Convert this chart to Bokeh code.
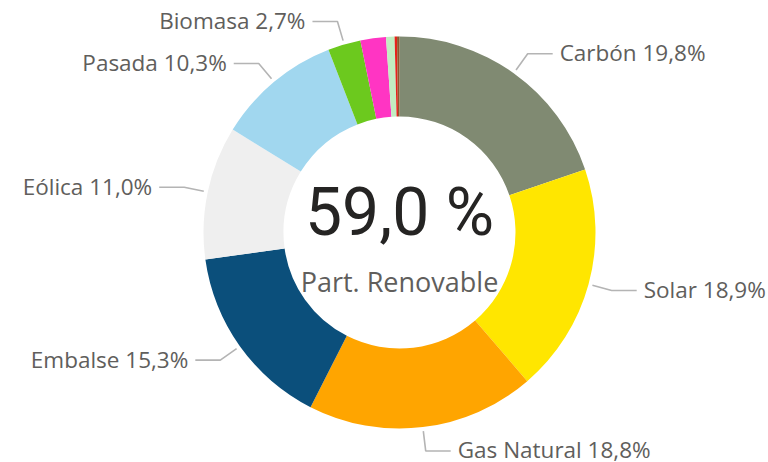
import math
from bokeh.plotting import figure
from bokeh.models import Range1d, ColumnDataSource
from bokeh.core.properties import value
from bokeh.embed import file_html
from bokeh.resources import INLINE

# ---- data ----
categories = ["Carbón", "Solar", "Gas Natural", "Embalse", "Eólica", "Pasada",
              "Biomasa", "Diésel", "Geotermia", "Fuel Oil", "Otros"]
values = [19.8, 18.9, 18.8, 15.3, 11.0, 10.3, 2.7, 2.1, 0.7, 0.2, 0.2]
colors = ["#808A72", "#FFE600", "#FFA500", "#0B4F7B", "#EFEFEF", "#A1D7EF",
          "#6CC91E", "#FF35C3", "#C2EDC1", "#E5231B", "#8A5A2E"]
labeled = [True, True, True, True, True, True, True, False, False, False, False]
center_value = "59,0 %"
center_caption = "Part. Renovable"

# ---- layout ----
W, H = 768, 462
cx, cy = 399, H - 232
r_out, r_in = 196, 116

p = figure(width=W, height=H, x_range=Range1d(0, W), y_range=Range1d(0, H),
           output_backend="svg", toolbar_location=None, min_border=0)
p.axis.visible = False
p.grid.visible = False
p.outline_line_color = None
p.background_fill_color = "white"
p.border_fill_color = "white"

total = sum(values)
starts, ends, mids = [], [], []
acc = 0.0
for v in values:
    t0 = acc / total * 2 * math.pi
    acc += v
    t1 = acc / total * 2 * math.pi
    starts.append(math.pi / 2 - t0)
    ends.append(math.pi / 2 - t1)
    mids.append((t0 + t1) / 2)

src = ColumnDataSource(dict(x=[cx] * len(values), y=[cy] * len(values),
                            start=starts, end=ends, color=colors))
p.annular_wedge(x="x", y="y", inner_radius=r_in, outer_radius=r_out,
                start_angle="start", end_angle="end", direction="clock",
                fill_color="color", line_color=None, source=src)

# leader lines + labels
xs, ys = [], []
lt = dict(x=[], y=[], t=[])
rt = dict(x=[], y=[], t=[])
for name, v, th, lab in zip(categories, values, mids, labeled):
    if not lab:
        continue
    s, c = math.sin(th), math.cos(th)
    x0, y0 = cx + 200 * s, cy + 200 * c
    x1, y1 = cx + 220 * s, cy + 220 * c
    d = 1 if s > 0 else -1
    x2 = x1 + 25 * d
    xs.append([x0, x1, x2])
    ys.append([y0, y1, y1])
    txt = f"{name} {v:.1f}%".replace(".", ",")
    tgt = rt if d > 0 else lt
    tgt["x"].append(x2 + 7 * d)
    tgt["y"].append(y1 + 1)
    tgt["t"].append(txt)

p.multi_line(xs=xs, ys=ys, line_color="#B4B4B4", line_width=1.6)
for dct, align in ((rt, "left"), (lt, "right")):
    p.text(x=dct["x"], y=dct["y"], text=dct["t"], text_align=align,
           text_baseline="alphabetic", text_font=value("Open Sans"),
           text_font_size="22.5px", text_color="#605E5C")

p.text(x=[cx], y=[H - 212], text=[center_value], text_align="center",
       text_baseline="alphabetic", text_font=value("Roboto"),
       text_font_size="66px", text_color="#252423")
p.text(x=[cx], y=[H - 281], text=[center_caption], text_align="center",
       text_baseline="alphabetic", text_font=value("Open Sans"),
       text_font_size="27px", text_color="#605E5C")

open("out.html", "w").write(file_html(p, INLINE))
